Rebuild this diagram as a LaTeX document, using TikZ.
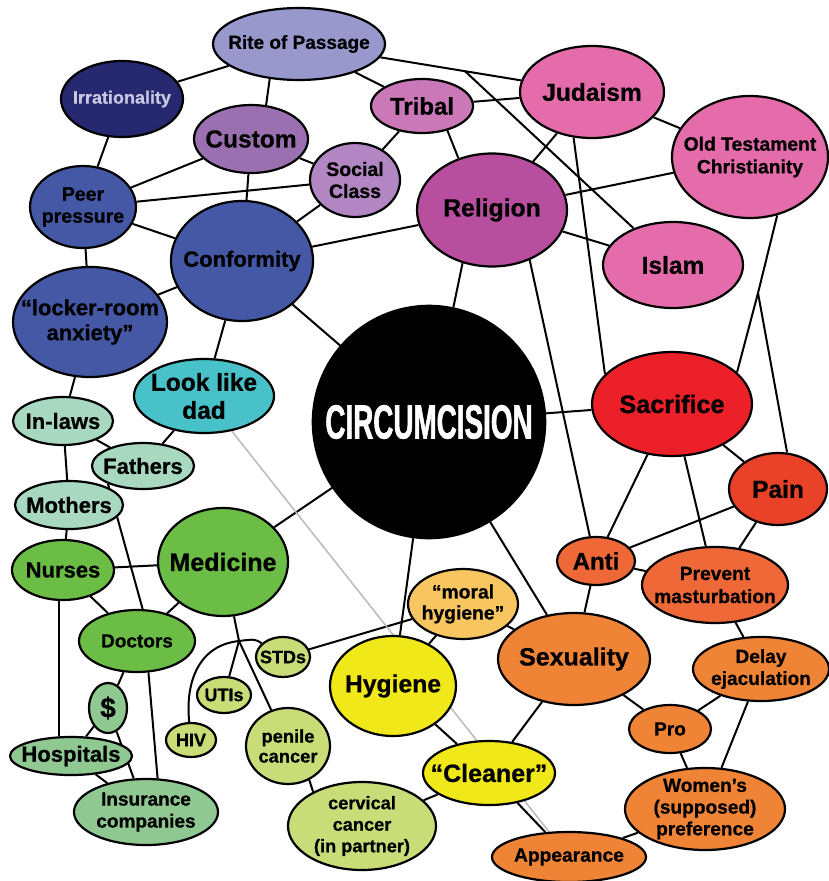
\documentclass[tikz,border=0pt]{standalone}
\usepackage{fontspec}
\setmainfont{Liberation Sans}[BoldFeatures={FakeBold=0.7}]
\newfontfamily\circfont[FakeStretch=0.58,FakeBold=1.2]{Liberation Sans}
\usetikzlibrary{shapes.geometric,backgrounds}
\newcommand\lf[2]{\fontsize{#1}{#2}\selectfont\bfseries}
\definecolor{crite}{RGB}{152,152,204}
\definecolor{cirr}{RGB}{38,40,112}
\definecolor{cirrtext}{RGB}{200,200,226}
\definecolor{ccustom}{RGB}{155,112,176}
\definecolor{csocial}{RGB}{178,134,194}
\definecolor{cblue}{RGB}{68,88,166}
\definecolor{ctribal}{RGB}{202,120,184}
\definecolor{creligion}{RGB}{184,78,158}
\definecolor{cpink}{RGB}{228,108,170}
\definecolor{cteal}{RGB}{72,194,200}
\definecolor{cmint}{RGB}{168,216,192}
\definecolor{cgreen}{RGB}{107,189,69}
\definecolor{csage}{RGB}{144,200,146}
\definecolor{clime}{RGB}{200,220,120}
\definecolor{cyellow}{RGB}{240,232,24}
\definecolor{cmoral}{RGB}{248,198,96}
\definecolor{corange}{RGB}{240,132,54}
\definecolor{credor}{RGB}{238,104,56}
\definecolor{cpain}{RGB}{234,66,40}
\definecolor{csacr}{RGB}{236,32,40}
\tikzset{
  bub/.style={ellipse, draw=black, line width=2.2pt, inner sep=0pt},
  lab/.style={align=center, inner sep=0pt, text=black},
  conn/.style={line width=2pt, draw=black},
  grayline/.style={line width=1.5pt, draw=black!27},
}
\begin{document}
\begin{tikzpicture}[x=1pt,y=-1pt]
\useasboundingbox (0,0) rectangle (829,881);
% nodes
\node[bub, fill=crite, minimum width=172, minimum height=72, label={[lab,font=\lf{19}{22}]center:Rite of Passage}] (rite) at (299,44) {};
\node[bub, fill=cirr, minimum width=122, minimum height=76, label={[lab,text=cirrtext,font=\lf{18}{22}]center:Irrationality}] (irr) at (122,99) {};
\node[bub, fill=ccustom, minimum width=114, minimum height=68, label={[lab,font=\lf{24.5}{28}]center:Custom}] (custom) at (251,139) {};
\node[bub, fill=csocial, minimum width=90, minimum height=74, label={[lab,font=\lf{19.5}{22}]center:Social\\Class}] (social) at (355,180) {};
\node[bub, fill=cblue, minimum width=106, minimum height=82, label={[lab,font=\lf{19.5}{22}]center:Peer\\pressure}] (peer) at (83,207) {};
\node[bub, fill=cblue, minimum width=142, minimum height=120, label={[lab,font=\lf{22}{26}]center:Conformity}] (conf) at (242,261) {};
\node[bub, fill=ctribal, minimum width=102, minimum height=54, label={[lab,font=\lf{24}{28}]center:Tribal}] (tribal) at (422,106) {};
\node[bub, fill=cpink, minimum width=144, minimum height=92, label={[lab,font=\lf{24.5}{28}]center:Judaism}] (judaism) at (592,92) {};
\node[bub, fill=cpink, minimum width=156, minimum height=122, label={[lab,font=\lf{19.3}{22.7}]center:Old Testament\\Christianity}] (otc) at (750,157) {};
\node[bub, fill=creligion, minimum width=150, minimum height=113, label={[lab,font=\lf{24.7}{28}]center:Religion}] (religion) at (492,210) {};
\node[bub, fill=cpink, minimum width=140, minimum height=86, label={[lab,font=\lf{24.5}{28}]center:Islam}] (islam) at (673,265) {};
\node[bub, fill=cblue, minimum width=154, minimum height=110, label={[lab,font=\lf{22}{25}]center:“locker-room\\anxiety”}] (locker) at (90,322) {};
\node[bub, fill=cteal, minimum width=140, minimum height=74, label={[lab,font=\lf{24.5}{28}]center:Look like\\dad}] (lookdad) at (204,396) {};
\node[bub, fill=cmint, minimum width=100, minimum height=48, label={[lab,font=\lf{22}{26}]center:In-laws}] (inlaws) at (63,421) {};
\node[bub, fill=cmint, minimum width=102, minimum height=46, label={[lab,font=\lf{22}{26}]center:Fathers}] (fathers) at (143,466) {};
\node[bub, fill=cmint, minimum width=108, minimum height=48, label={[lab,font=\lf{22}{26}]center:Mothers}] (mothers) at (69,505) {};
\node[bub, fill=cgreen, minimum width=130, minimum height=108, label={[lab,font=\lf{25}{28}]center:Medicine}] (medicine) at (223,562) {};
\node[bub, fill=cgreen, minimum width=102, minimum height=60, label={[lab,font=\lf{22}{26}]center:Nurses}] (nurses) at (63,570) {};
\node[bub, fill=cgreen, minimum width=116, minimum height=62, label={[lab,font=\lf{19}{22}]center:Doctors}] (doctors) at (137,641) {};
\node[bub, fill=csage, minimum width=38, minimum height=50, label={[lab,font=\lf{28}{30}]center:\$}] (dollar) at (108,708) {};
\node[bub, fill=csage, minimum width=122, minimum height=38, label={[lab,font=\lf{22}{26}]center:Hospitals}] (hospitals) at (71,756) {};
\node[bub, fill=csage, minimum width=144, minimum height=66, label={[lab,font=\lf{19}{22}]center:Insurance\\companies}] (insurance) at (146,812) {};
\node[bub, fill=clime, minimum width=50, minimum height=34, label={[lab,font=\lf{18}{21}]center:HIV}] (hiv) at (191,740) {};
\node[bub, fill=clime, minimum width=54, minimum height=36, label={[lab,font=\lf{18}{21}]center:UTIs}] (utis) at (224,695) {};
\node[bub, fill=clime, minimum width=54, minimum height=40, label={[lab,font=\lf{18}{21}]center:STDs}] (stds) at (283,657) {};
\node[bub, fill=clime, minimum width=84, minimum height=76, label={[lab,font=\lf{18.3}{20}]center:penile\\cancer}] (penile) at (288,746) {};
\node[bub, fill=clime, minimum width=148, minimum height=88, label={[lab,font=\lf{18.2}{21.5}]center:cervical\\cancer\\(in partner)}] (cervical) at (362,826) {};
\node[bub, fill=cyellow, minimum width=126, minimum height=100, label={[lab,font=\lf{24.7}{28}]center:Hygiene}] (hygiene) at (393,686) {};
\node[bub, fill=cmoral, minimum width=110, minimum height=70, label={[lab,font=\lf{19.3}{21}]center:“moral\\hygiene”}] (moral) at (463,604) {};
\node[bub, fill=cyellow, minimum width=132, minimum height=64, label={[lab,font=\lf{25}{28}]center:“Cleaner”}] (cleaner) at (489,773) {};
\node[bub, fill=corange, minimum width=154, minimum height=50, label={[lab,font=\lf{19.2}{22}]center:Appearance}] (appearance) at (569,857) {};
\node[bub, fill=corange, minimum width=152, minimum height=92, label={[lab,font=\lf{25}{28}]center:Sexuality}] (sexuality) at (574,659) {};
\node[bub, fill=corange, minimum width=82, minimum height=48, label={[lab,font=\lf{19}{22}]center:Pro}] (pro) at (670,729) {};
\node[bub, fill=corange, minimum width=160, minimum height=82, label={[lab,font=\lf{19.1}{21.7}]center:Women's\\(supposed)\\preference}] (women) at (705,809) {};
\node[bub, fill=corange, minimum width=136, minimum height=64, label={[lab,font=\lf{19.1}{22}]center:Delay\\ejaculation}] (delay) at (761,669) {};
\node[bub, fill=credor, minimum width=146, minimum height=76, label={[lab,font=\lf{19.2}{23}]center:Prevent\\masturbation}] (prevent) at (715,585) {};
\node[bub, fill=credor, minimum width=78, minimum height=48, label={[lab,font=\lf{24}{28}]center:Anti}] (anti) at (596,561) {};
\node[bub, fill=cpain, minimum width=98, minimum height=72, label={[lab,font=\lf{24.5}{28}]center:Pain}] (pain) at (778,489) {};
\node[bub, fill=csacr, minimum width=160, minimum height=104, label={[lab,font=\lf{25.2}{28}]center:Sacrifice}] (sacrifice) at (672,404) {};
\node[circle, fill=black, draw=black, line width=1.6pt, inner sep=0pt, minimum size=233, label={[lab,text=white,font=\circfont\fontsize{48}{50}\selectfont\bfseries]center:CIRCUMCISION}] (circ) at (429,422) {};
% branch points
\coordinate (b1) at (465,71.2);
\coordinate (b2) at (758,293);
\coordinate (mj) at (239,641);
% connectors
\begin{scope}[on background layer]
\begin{scope}[conn]
\draw (rite) -- (irr);
\draw (rite.-130) -- (custom.66);
\draw (rite) -- (tribal);
\draw (rite) -- (judaism);
\draw (b1) -- (islam);
\draw (irr) -- (peer);
\draw (custom) -- (peer);
\draw (custom) -- (social);
\draw (custom) -- (conf);
\draw (peer) -- (social);
\draw (peer) -- (conf);
\draw (peer) -- (locker);
\draw (social) -- (conf);
\draw (social) -- (tribal);
\draw (tribal) -- (judaism);
\draw (tribal.-44) -- (religion.123);
\draw (conf) -- (religion);
\draw (conf) -- (locker);
\draw (conf) -- (lookdad);
\draw (conf) -- (circ);
\draw (judaism) -- (religion);
\draw (judaism) -- (otc);
\draw (judaism.-112) -- (sacrifice.156);
\draw (otc) -- (religion);
\draw (otc.-65) -- (b2) -- (sacrifice.26);
\draw (b2) -- (pain.76);
\draw (religion) -- (islam);
\draw (religion.-53) -- (anti.104);
\draw (religion.-119) -- (circ.78);
\draw (circ) -- (sacrifice);
\draw (circ) -- (medicine);
\draw (circ) -- (hygiene);
\draw (circ) -- (sexuality);
\draw (sacrifice) -- (anti);
\draw (sacrifice) -- (prevent);
\draw (sacrifice) -- (pain);
\draw (pain) -- (anti);
\draw (pain) -- (prevent);
\draw (anti) -- (prevent);
\draw (anti) -- (sexuality);
\draw (prevent) -- (delay);
\draw (sexuality) -- (pro);
\draw (sexuality) -- (cleaner);
\draw (sexuality) -- (moral);
\draw (pro) -- (delay);
\draw (pro) -- (women);
\draw (delay) -- (women);
\draw (women) -- (appearance);
\draw (cleaner) -- (appearance);
\draw (cleaner) -- (hygiene);
\draw (cleaner) -- (cervical);
\draw (hygiene) -- (moral);
\draw (stds) -- (moral);
\draw (penile.-58) -- (cervical.145);
\draw (medicine) -- (nurses);
\draw (medicine) -- (doctors);
\draw (medicine) -- (mj);
\draw (mj) -- (utis);
\draw (mj) -- (penile);
\draw (mj) .. controls (255,639) .. (stds);
\draw (mj) .. controls (200,645) and (185,680) .. (hiv);
\draw (locker) -- (inlaws);
\draw (inlaws) -- (mothers);
\draw (inlaws) -- (fathers);
\draw (fathers) -- (lookdad);
\draw (fathers.-153) -- (doctors.80);
\draw (mothers) -- (nurses);
\draw (nurses) -- (doctors);
\draw ([xshift=-4pt]nurses.south) -- ([xshift=-12pt]hospitals.north);
\draw (doctors) -- (dollar);
\draw (doctors.-70) -- (insurance.71);
\draw (dollar) -- (hospitals);
\draw (dollar) -- (insurance);
\draw (hospitals) -- (insurance);
\draw[grayline] (lookdad) -- (appearance);
\end{scope}
\end{scope}
\end{tikzpicture}
\end{document}
